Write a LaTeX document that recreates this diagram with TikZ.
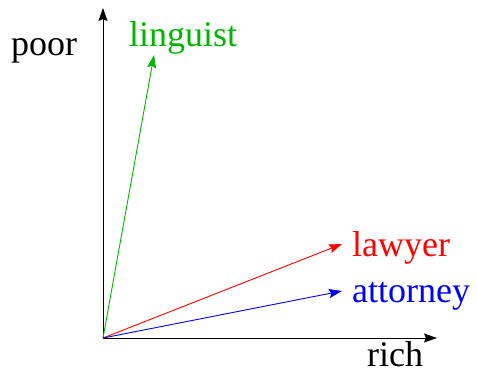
\documentclass[tikz,border=0pt]{standalone}
\usepackage{fontspec}
\setmainfont{Liberation Serif}
\newfontfamily\timesf{Liberation Serif}
\usetikzlibrary{arrows.meta}
\definecolor{lgreen}{RGB}{0,180,0}
\begin{document}
\begin{tikzpicture}[x=1pt,y=1pt,
  vec/.style={line width=0.9pt,-{Stealth[length=13pt,width=9pt,inset=2pt]}},
  lbl/.style={anchor=base west,inner sep=0pt,font=\timesf\fontsize{36}{40}\selectfont}]
\useasboundingbox (0,0) rectangle (477,372);
\coordinate (o) at (103,34);
\coordinate (yt) at (103,364);
\coordinate (xt) at (437,34);
\coordinate (lg) at (154,317);
\coordinate (lw) at (342,128);
\coordinate (at) at (342,81);
\draw[vec,black] (o) -- (yt);
\draw[vec,black] (o) -- (xt);
\draw[vec,lgreen] (o) -- (lg);
\draw[vec,red] (o) -- (lw);
\draw[vec,blue] (o) -- (at);
\node[lbl] (poor) at (11,316) {poor};
\node[lbl,text=lgreen] (ling) at (129,325) {linguist};
\node[lbl,text=red] (law) at (352,115) {lawyer};
\node[lbl,text=blue] (att) at (352,69) {attorney};
\node[lbl] (rich) at (367,5) {rich};
\end{tikzpicture}
\end{document}
